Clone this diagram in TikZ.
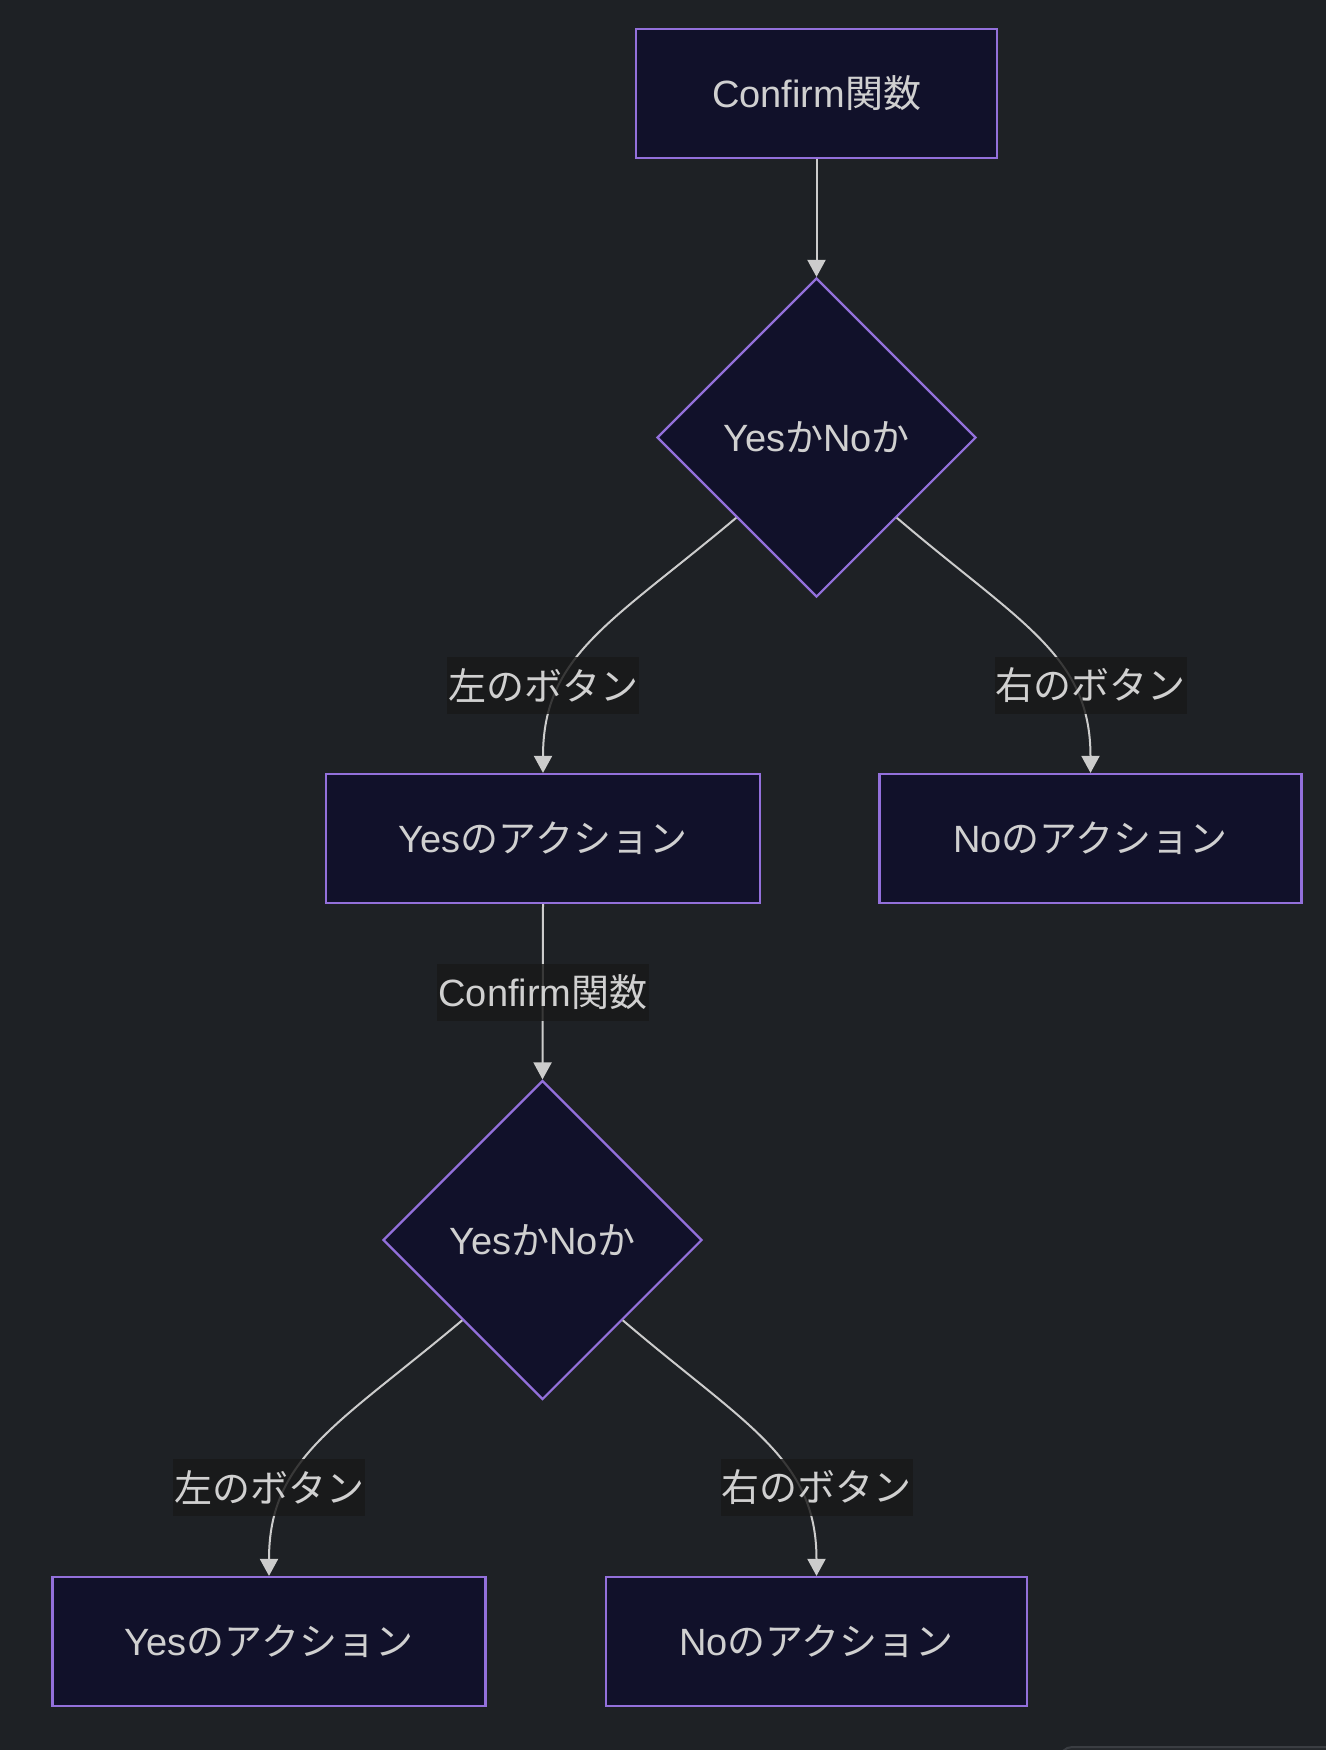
\documentclass[tikz,border=0pt]{standalone}
\usepackage{fontspec}
\setmainfont{Liberation Sans}
\newfontfamily\jpfont{Noto Sans CJK JP}
\newcommand{\jp}[1]{{\jpfont #1}}
\usetikzlibrary{arrows.meta,shapes.geometric}
\definecolor{bgc}{HTML}{1E2125}
\definecolor{nodefill}{HTML}{11112A}
\definecolor{nodeborder}{HTML}{9370DB}
\definecolor{txt}{HTML}{D0D0D0}
\definecolor{lblbg}{HTML}{191919}
\definecolor{edgec}{HTML}{CCCCCC}
\definecolor{cornerc}{HTML}{3A3D42}
\definecolor{cornerfill}{HTML}{25282C}
\begin{document}
\begin{tikzpicture}[x=0.5pt,y=-0.5pt,
  box/.style={draw=nodeborder, fill=nodefill, line width=1.1pt, text=txt,
    font=\fontsize{19}{22}\selectfont, inner sep=0pt, minimum height=64.5pt},
  decision/.style={diamond, draw=nodeborder, fill=nodefill, line width=1.1pt, text=txt,
    font=\fontsize{19}{22}\selectfont, inner sep=0pt, minimum width=159.5pt, minimum height=159.5pt},
  lbl/.style={fill=lblbg, fill opacity=0.82, text opacity=1, text=txt,
    font=\fontsize{19}{22}\selectfont, inner xsep=0.5pt, inner ysep=0pt, minimum height=28.5pt},
  conn/.style={draw=edgec, line width=1pt, -{Triangle[length=8.5pt,width=9pt]}}
]
\useasboundingbox (0,0) rectangle (1326,1750);
\fill[bgc] (0,0) rectangle (1326,1750);
\begin{scope}
\clip (0,0) rectangle (1326,1750);
\draw[cornerc, fill=cornerfill, line width=1pt, rounded corners=6pt] (1060,1747) rectangle (1360,1800);
\end{scope}

\node[box, minimum width=180.5pt] (t) at (816.5,93.5) {Confirm\jp{関数}};
\node[decision] (d1) at (816.5,437.5) {Yes\jp{か}No\jp{か}};
\node[box, minimum width=217pt] (l1) at (543,838.5) {Yes\jp{のアクション}};
\node[box, minimum width=211pt] (r1) at (1090.5,838.5) {No\jp{のアクション}};
\node[decision] (d2) at (542.5,1240) {Yes\jp{か}No\jp{か}};
\node[box, minimum width=216.5pt] (l2) at (269,1641.5) {Yes\jp{のアクション}};
\node[box, minimum width=210.5pt] (r2) at (816.5,1641.5) {No\jp{のアクション}};

\draw[conn] (t.south) -- (d1.north);
\draw[conn] (d1.south west) .. controls +(-125,105) and +(0,-118) .. (l1.north);
\draw[conn] (d1.south east) .. controls +(123,105) and +(0,-118) .. (r1.north);
\draw[conn] (l1.south) -- (d2.north);
\draw[conn] (d2.south west) .. controls +(-125,105) and +(0,-118) .. (l2.north);
\draw[conn] (d2.south east) .. controls +(123,105) and +(0,-118) .. (r2.north);

\node[lbl] (la) at (543,685.5) {\jp{左のボタン}};
\node[lbl] (lb) at (1090.5,685.5) {\jp{右のボタン}};
\node[lbl] (lc) at (543,992.5) {Confirm\jp{関数}};
\node[lbl] (ld) at (269,1487) {\jp{左のボタン}};
\node[lbl] (le) at (816.5,1487) {\jp{右のボタン}};
\end{tikzpicture}
\end{document}
